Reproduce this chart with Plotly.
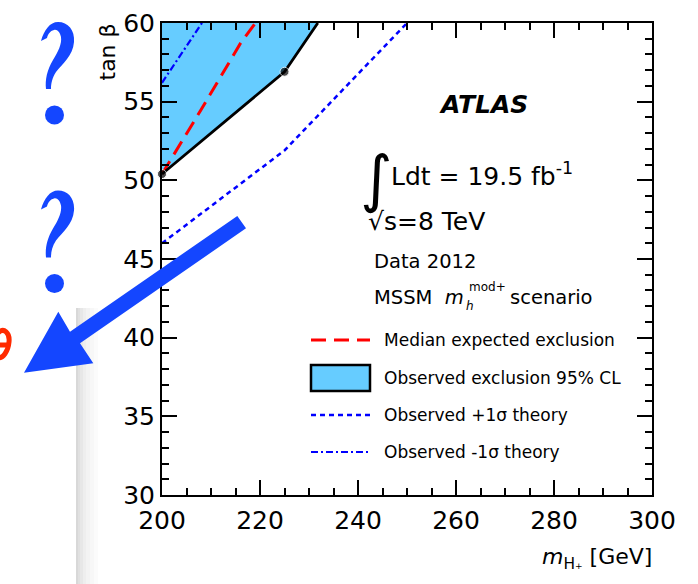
import plotly.graph_objects as go

# ---------------- data ----------------
obs_mass = [200, 225, 231.8]          # observed exclusion contour
obs_tanb = [50.4, 56.9, 60.0]
exp_mass = [200, 208, 216, 220]       # median expected exclusion
exp_tanb = [50.4, 54.5, 58.7, 60.4]
plus_mass = [200, 225, 250]           # observed +1 sigma theory
plus_tanb = [46.0, 51.9, 60.0]
minus_mass = [200, 209]               # observed -1 sigma theory
minus_tanb = [56.2, 60.4]
x_ticks = [200, 220, 240, 260, 280, 300]
y_ticks = [30, 35, 40, 45, 50, 55, 60]
x_range = [200, 300]
y_range = [30, 60]

legend_labels = ["Median expected exclusion", "Observed exclusion 95% CL",
                 "Observed +1σ theory", "Observed -1σ theory"]

FONT = "DejaVu Sans"
W, H = 698, 584
L, R, T, B = 162, 652, 23, 495


def px(x):
    return (x - L) / (R - L)


def py(y):
    return (B - y) / (B - T)


def path_px(cmds, close=True):
    out = []
    for c, pts in cmds:
        s = c
        for i in range(0, len(pts), 2):
            s += " %.5f,%.5f" % (px(pts[i]), py(pts[i + 1]))
        out.append(s)
    return " ".join(out) + (" Z" if close else "")


fig = go.Figure()

# observed exclusion area
fig.add_trace(go.Scatter(
    x=[obs_mass[0]] + obs_mass + [obs_mass[0]],
    y=[y_range[1]] + obs_tanb + [y_range[1]],
    fill="toself", fillcolor="#66ccff", mode="lines",
    line=dict(width=0), hoverinfo="skip", showlegend=False))
# -1 sigma
fig.add_trace(go.Scatter(x=minus_mass, y=minus_tanb, mode="lines",
                         line=dict(color="#0000ff", width=2.2, dash="7px,3px,2px,3px"),
                         showlegend=False))
# +1 sigma
fig.add_trace(go.Scatter(x=plus_mass, y=plus_tanb, mode="lines",
                         line=dict(color="#0000ff", width=2.5, dash="5px,4px"),
                         showlegend=False))
# median expected
fig.add_trace(go.Scatter(x=exp_mass, y=exp_tanb, mode="lines",
                         line=dict(color="#ff0000", width=3, dash="15px,8px"),
                         showlegend=False))
# observed contour
fig.add_trace(go.Scatter(x=obs_mass, y=obs_tanb, mode="lines+markers",
                         line=dict(color="black", width=2.8),
                         marker=dict(color="black", size=[9, 9, 0]),
                         cliponaxis=False, showlegend=False))

axis_common = dict(
    ticks="inside", ticklen=15, tickwidth=1.5, tickcolor="black",
    showline=True, linewidth=2, linecolor="black", mirror="allticks",
    showgrid=False, zeroline=False, automargin=False,
    tickfont=dict(family=FONT, size=25, color="black"),
)
fig.update_xaxes(range=x_range, tickvals=x_ticks,
                 minor=dict(ticks="inside", ticklen=7, dtick=5, tick0=200,
                            tickcolor="black", tickwidth=1.5),
                 ticklabelstandoff=2, **axis_common)
fig.update_yaxes(range=y_range, tickvals=y_ticks,
                 minor=dict(ticks="inside", ticklen=7, dtick=1, tick0=30,
                            tickcolor="black", tickwidth=1.5),
                 ticklabelstandoff=0, **axis_common)

ann = []


def text(x, y, s, size, xanchor="left", yanchor="middle", color="black", family=FONT, **kw):
    ann.append(dict(x=px(x), y=py(y), xref="paper", yref="paper", text=s,
                    showarrow=False, xanchor=xanchor, yanchor=yanchor,
                    font=dict(family=family, size=size, color=color), **kw))


# axis titles
text(107, 22, "tan β", 22, xanchor="center", yanchor="top", textangle=-90)
text(654, 558, "<i>m</i><sub>H<span style='font-size:9px'>+</span></sub> [GeV]", 22,
     xanchor="right")

# labels
text(483, 104, "<b><i>ATLAS</i></b>", 25, xanchor="center")
text(376, 178, "∫", 62, xanchor="center")
text(389, 174, "Ldt = 19.5 fb<sup>-1</sup>", 25)
text(366, 221, "√s=8 TeV", 25)
text(372, 261, "Data 2012", 19.5)
text(372, 297, "MSSM  <i>m</i>", 19.5)
text(467, 287, "mod+", 12)
text(464, 306, "<i>h</i>", 12)
text(508, 297, "scenario", 19.5)

# legend (drawn manually)
leg_y = [340, 378, 415, 452]
for lab, yy in zip(legend_labels, leg_y):
    text(382, yy, lab, 17)

shapes = []
shapes.append(dict(type="line", xref="paper", yref="paper", x0=px(311), x1=px(370),
                   y0=py(leg_y[0]), y1=py(leg_y[0]),
                   line=dict(color="#ff0000", width=3, dash="15px,8px")))
shapes.append(dict(type="rect", xref="paper", yref="paper", x0=px(311), x1=px(370),
                   y0=py(365), y1=py(391), fillcolor="#66ccff",
                   line=dict(color="black", width=2.5)))
shapes.append(dict(type="line", xref="paper", yref="paper", x0=px(311), x1=px(370),
                   y0=py(leg_y[2]), y1=py(leg_y[2]),
                   line=dict(color="#0000ff", width=2.5, dash="5px,4px")))
shapes.append(dict(type="line", xref="paper", yref="paper", x0=px(311), x1=px(370),
                   y0=py(leg_y[3]), y1=py(leg_y[3]),
                   line=dict(color="#0000ff", width=2.2, dash="7px,3px,2px,3px")))

# ---------------- slide decorations ----------------
grays = ["#d8d8d8", "#e0e0e0", "#e7e7e7", "#eeeeee", "#f3f3f3", "#f7f7f7", "#fbfbfb"]
gx = [76, 78, 80, 83, 86, 90, 94, 98]
for i, g in enumerate(grays):
    shapes.append(dict(type="rect", xref="paper", yref="paper", layer="below",
                       x0=px(gx[i]), x1=px(gx[i + 1]), y0=py(308), y1=py(600),
                       fillcolor=g, line=dict(width=0)))

BLUE = "#1446ff"
for dy in [0, 168.5]:
    qpath = path_px([
        ("M", [41, 41 + dy]),
        ("C", [44, 30 + dy, 50, 22 + dy, 58, 22 + dy]),
        ("C", [68, 22 + dy, 75, 30 + dy, 74, 42 + dy]),
        ("C", [73, 56 + dy, 62, 64 + dy, 56, 72 + dy]),
        ("C", [52, 78 + dy, 51, 84 + dy, 51, 89 + dy]),
        ("L", [46, 89 + dy]),
        ("C", [45, 80 + dy, 47, 70 + dy, 53, 60 + dy]),
        ("C", [58, 52 + dy, 62, 44 + dy, 61, 37 + dy]),
        ("C", [60, 32 + dy, 57, 29 + dy, 54, 30 + dy]),
        ("C", [50, 31 + dy, 48, 34 + dy, 47, 38 + dy]),
    ])
    shapes.append(dict(type="path", xref="paper", yref="paper", path=qpath,
                       fillcolor=BLUE, line=dict(width=0)))
    shapes.append(dict(type="circle", xref="paper", yref="paper",
                       x0=px(45), x1=px(64), y0=py(124.5 + dy), y1=py(105.5 + dy),
                       fillcolor=BLUE, line=dict(width=0)))

arrow = path_px([("M", [237.3, 216]), ("L", [246, 228.3]), ("L", [80, 343.3]),
                 ("L", [93.3, 363.3]), ("L", [24, 372.7]), ("L", [58.3, 311.7]),
                 ("L", [70, 331.7])])
shapes.append(dict(type="path", xref="paper", yref="paper", path=arrow,
                   fillcolor=BLUE, line=dict(width=0), layer="above"))

# red glyph fragment cut at the left edge (drawn as a stroke)
red_path = path_px([("M", [-2, 333]), ("C", [4, 327, 10, 333, 9, 342]),
                    ("C", [8, 352, 3, 358, -2, 358]),
                    ("M", [-2, 345]), ("L", [8, 345])], close=False)
shapes.append(dict(type="path", xref="paper", yref="paper", path=red_path,
                   line=dict(color="#ff2a00", width=5)))

fig.update_layout(
    width=W, height=H,
    margin=dict(l=L, r=W - R, t=T, b=H - B, pad=0, autoexpand=False),
    paper_bgcolor="white", plot_bgcolor="white",
    showlegend=False,
    annotations=ann, shapes=shapes,
)

fig.write_html("out.html", config={"displayModeBar": False},
               post_script="document.body.style.margin='0';document.body.style.overflow='hidden';")
